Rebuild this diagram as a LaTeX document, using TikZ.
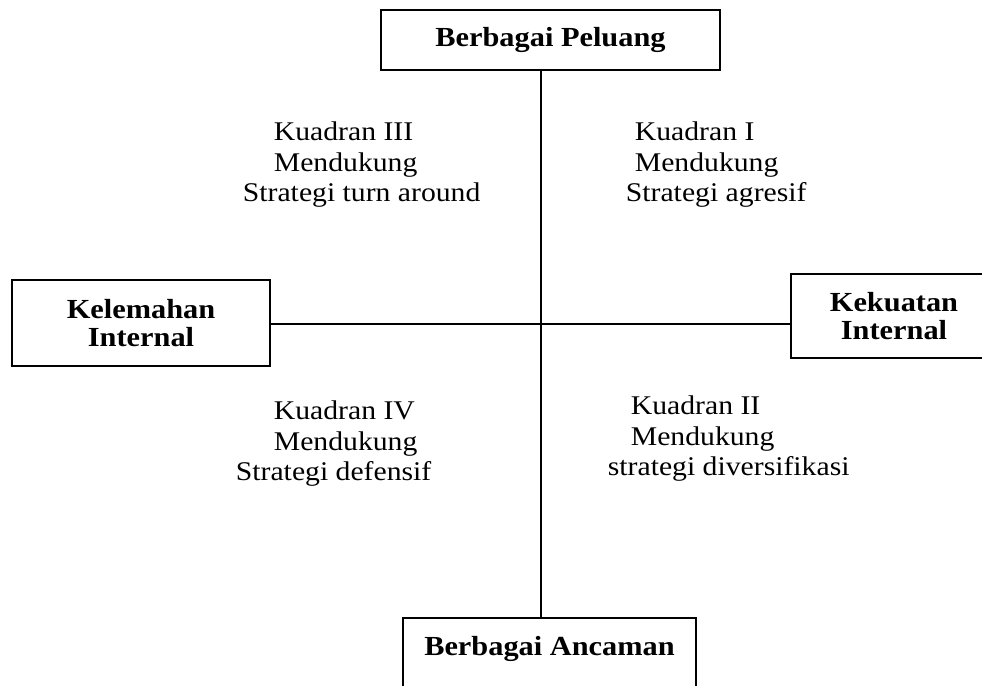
\documentclass[tikz,border=0pt]{standalone}
\usepackage{fontspec}
\setmainfont[FakeStretch=1.1]{Liberation Serif}

\begin{document}
\begin{tikzpicture}[x=0.5pt,y=-0.5pt,line width=0.9pt,
    box/.style={draw,inner sep=0pt,align=center,font=\bfseries\fontsize{13.8}{14}\selectfont},
    quad/.style={anchor=north west,inner sep=0pt,align=left,font=\fontsize{13.5}{15.3}\selectfont}]
  \clip (0,0) rectangle (982,686);

  \node[box,minimum width=169.5pt,minimum height=30pt] (peluang)   at (550.5,40) {Berbagai Peluang};
  \node[box,minimum width=129pt,minimum height=43pt]   (kelemahan) at (141,323)  {Kelemahan\\Internal};
  \node[box,minimum width=103pt,minimum height=42pt]   (kekuatan)  at (894,316)  {Kekuatan\\Internal};
  \node[box,anchor=north,minimum width=146.5pt,text height=19pt,text depth=23pt]
                                                       (ancaman)   at (549.5,617) {Berbagai Ancaman};
  \coordinate (pusat) at (541,324);

  \draw (peluang.south -| pusat)  -- (ancaman.north -| pusat);
  \draw (kelemahan.east |- pusat) -- (kekuatan.west |- pusat);

  % kuadran
  \node[quad] (kuadran1) at (625,121) {\hspace*{4.5pt}Kuadran I\\\hspace*{4.5pt}Mendukung\\Strategi agresif};
  \node[quad] (kuadran3) at (242,121) {\hspace*{15.5pt}Kuadran III\\\hspace*{15.5pt}Mendukung\\Strategi turn around};
  \node[quad] (kuadran4) at (235,400) {\hspace*{19pt}Kuadran IV\\\hspace*{19pt}Mendukung\\Strategi defensif};
  \node[quad] (kuadran2) at (607,395) {\hspace*{11.5pt}Kuadran II\\\hspace*{11.5pt}Mendukung\\strategi diversifikasi};
\end{tikzpicture}
\end{document}
